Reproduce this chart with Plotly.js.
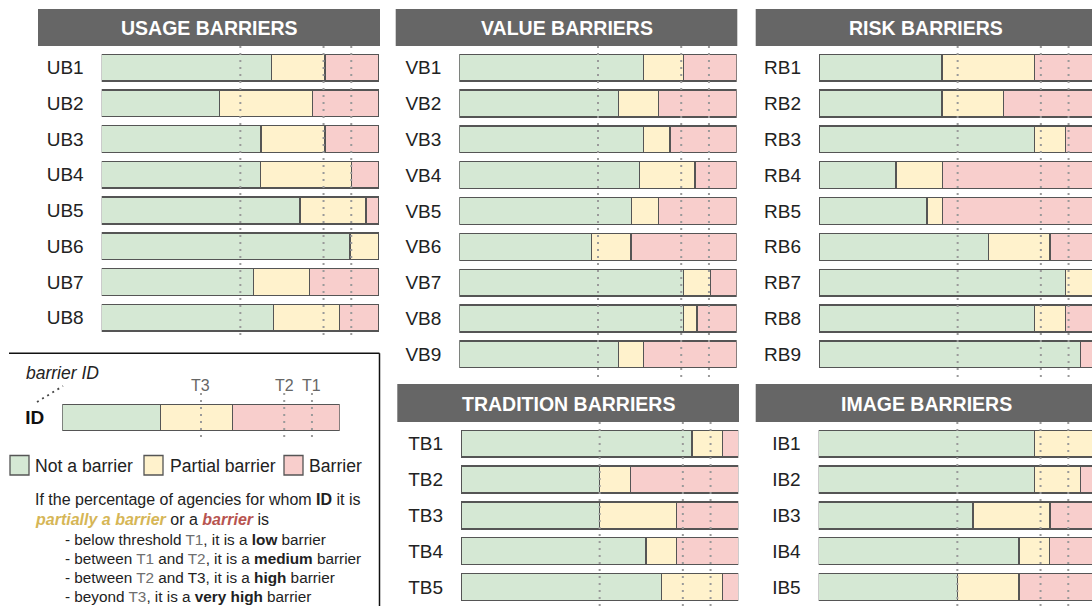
<!DOCTYPE html>
<html><head><meta charset="utf-8">
<script src="https://cdn.plot.ly/plotly-3.0.1.min.js"></script>
<style>html,body{margin:0;padding:0;overflow:hidden;background:#fff;width:1092px;height:606px}</style>
</head><body><div id="chart"></div>
<script>
// ---------- DATA (percent of agencies) ----------
const usageIds      = ['UB1','UB2','UB3','UB4','UB5','UB6','UB7','UB8'];
const usageNot      = [61.3, 42.4, 57.4, 57.2, 71.5, 89.5, 54.7, 61.9];
const usagePartial  = [19.2, 33.7, 23.1, 32.9, 23.8, 10.5, 20.2, 23.8];
const usageBarrier  = [19.5, 23.9, 19.5,  9.9,  4.7,  0.0, 25.1, 14.3];

const valueIds      = ['VB1','VB2','VB3','VB4','VB5','VB6','VB7','VB8','VB9'];
const valueNot      = [66.5, 57.5, 66.5, 65.0, 62.0, 47.7, 80.8, 80.8, 57.5];
const valuePartial  = [14.3, 14.3,  9.5, 20.0,  9.8, 14.2,  9.7,  4.9,  8.9];
const valueBarrier  = [19.2, 28.2, 24.0, 15.0, 28.2, 38.1,  9.5, 14.3, 33.6];

const riskIds       = ['RB1','RB2','RB3','RB4','RB5','RB6','RB7','RB8','RB9'];
const riskNot       = [44.4, 44.4, 77.8, 27.8, 38.9, 61.1, 88.9, 77.8, 94.4];
const riskPartial   = [33.3, 22.2, 11.1, 16.7,  5.6, 22.2, 11.1, 11.1,  0.0];
const riskBarrier   = [22.2, 33.3, 11.1, 55.6, 55.6, 16.7,  0.0, 11.1,  5.6];

const traditionIds     = ['TB1','TB2','TB3','TB4','TB5'];
const traditionNot     = [83.3, 50.0, 50.0, 66.7, 72.2];
const traditionPartial = [11.1, 11.1, 27.8, 11.1, 22.2];
const traditionBarrier = [ 5.6, 38.9, 22.2, 22.2,  5.6];

const imageIds      = ['IB1','IB2','IB3','IB4','IB5'];
const imageNot      = [77.8, 77.8, 55.6, 72.2, 50.0];
const imagePartial  = [22.2, 16.7, 27.8, 11.1, 22.2];
const imageBarrier  = [ 0.0,  5.6, 16.7, 16.7, 27.8];

const exampleIds     = ['ID'];
const exampleNot     = [35.5];
const examplePartial = [25.8];
const exampleBarrier = [38.7];

// thresholds on the cumulative "not a barrier" scale
const thresholdNames  = ['T3','T2','T1'];
const thresholdValues = [50, 80, 90];

const categoryNames = ['Not a barrier','Partial barrier','Barrier'];

// ---------- LAYOUT ----------
const W = 1100, H = 606;
const fx = p => p / W, fy = p => 1 - p / H;
const FONT = 'Liberation Sans, Arial, sans-serif';
const fills = ['#d5e8d4','#fff2cc','#f8cecc'];
const TXT = '#222';

const panels = [
  {ids:usageIds, vals:[usageNot,usagePartial,usageBarrier], title:'USAGE BARRIERS',
   bx:[101.7,379], by:[49.8,335.5], hx:[38,380], hy:[9,46], dy:[46,340]},
  {ids:valueIds, vals:[valueNot,valuePartial,valueBarrier], title:'VALUE BARRIERS',
   bx:[459.3,736.7], by:[49.8,372.2], hx:[395.7,737.3], hy:[9,46], dy:[46,377]},
  {ids:riskIds, vals:[riskNot,riskPartial,riskBarrier], title:'RISK BARRIERS',
   bx:[819,1096.3], by:[49.8,372.2], hx:[755.7,1097], hy:[9,46], dy:[46,377]},
  {ids:traditionIds, vals:[traditionNot,traditionPartial,traditionBarrier], title:'TRADITION BARRIERS',
   bx:[461,738.3], by:[425.75,605], hx:[397.3,739], hy:[384,422], dy:[422,612]},
  {ids:imageIds, vals:[imageNot,imagePartial,imageBarrier], title:'IMAGE BARRIERS',
   bx:[818.7,1096], by:[425.75,605], hx:[755.7,1097], hy:[384,422], dy:[422,612]},
  {ids:exampleIds, vals:[exampleNot,examplePartial,exampleBarrier], title:null,
   bx:[62.3,339.7], by:[399.8,435.2], dy:[393,441], example:true}
];

const data = [];
const layout = {
  width: W, height: H, margin:{l:0,r:0,t:0,b:0},
  paper_bgcolor:'#fff', plot_bgcolor:'rgba(0,0,0,0)',
  barmode:'stack', bargap:0.25, showlegend:false,
  font:{family:FONT, color:TXT},
  shapes:[], annotations:[]
};

panels.forEach((p, i) => {
  const s = i === 0 ? '' : String(i + 1);
  const xa = 'x' + s, ya = 'y' + s;
  layout['xaxis' + s] = {domain:[fx(p.bx[0]), fx(p.bx[1])], range:[0,100], anchor:ya,
    visible:false, fixedrange:true};
  layout['yaxis' + s] = {domain:[fy(p.by[1]), fy(p.by[0])], anchor:xa, type:'category',
    categoryorder:'array', categoryarray:p.ids, autorange:'reversed',
    showgrid:false, zeroline:false, showline:false, ticks:'', fixedrange:true,
    ticklabelstandoff:17,
    tickfont: p.example ? {size:19, color:'#111', family:FONT, weight:'bold'} : {size:19, color:TXT, family:FONT}};
  p.vals.forEach((v, j) => {
    data.push({type:'bar', orientation:'h', x:v, y:p.ids, xaxis:xa, yaxis:ya,
      name:categoryNames[j], marker:{color:fills[j], line:{color:'#555', width:1.4}},
      hoverinfo:'skip', showlegend:false});
  });
  thresholdValues.forEach((t, k) => {
    layout.shapes.push({type:'line', xref:xa, yref:'paper', x0:t, x1:t,
      y0:fy(p.dy[0]), y1:fy(p.dy[1]), layer:'above',
      line:{color:'#9a9a9a', width:2, dash:'2px,5px'}});
    if (p.example) {
      layout.annotations.push({xref:xa, yref:'paper', x:t, y:fy(385), text:thresholdNames[k],
        showarrow:false, xanchor:'center', yanchor:'middle', font:{size:16, color:'#666'}});
    }
  });
  if (p.title) {
    layout.shapes.push({type:'rect', xref:'paper', yref:'paper', layer:'below',
      x0:fx(p.hx[0]), x1:fx(p.hx[1]), y0:fy(p.hy[1]), y1:fy(p.hy[0]),
      fillcolor:'#666666', line:{width:0}});
    layout.annotations.push({xref:'paper', yref:'paper', x:fx((p.hx[0]+p.hx[1])/2),
      y:fy((p.hy[0]+p.hy[1])/2 + 0.5), text:'<b>' + p.title + '</b>', showarrow:false,
      xanchor:'center', yanchor:'middle', font:{size:19.5, color:'#ffffff'}});
  }
});

// legend box (top and right edges)
layout.shapes.push({type:'line', xref:'paper', yref:'paper', x0:fx(9), x1:fx(379.5), y0:fy(353.3), y1:fy(353.3),
  line:{color:'#111', width:1.5}});
layout.shapes.push({type:'line', xref:'paper', yref:'paper', x0:fx(379.5), x1:fx(379.5), y0:fy(353.3), y1:fy(610),
  line:{color:'#111', width:1.5}});
// "barrier ID" pointer
layout.shapes.push({type:'line', xref:'paper', yref:'paper', x0:fx(37), x1:fx(63), y0:fy(402), y1:fy(386),
  line:{color:'#444', width:1.8, dash:'2px,4px'}});
layout.annotations.push({xref:'paper', yref:'paper', x:fx(24), y:fy(373), text:'<i>barrier ID</i>',
  showarrow:false, xanchor:'left', yanchor:'middle', font:{size:17.5, color:TXT}});

// category key
const keyX = [[10,33],[144,167.5],[284,306.5]];
categoryNames.forEach((n, j) => {
  layout.shapes.push({type:'rect', xref:'paper', yref:'paper', x0:fx(keyX[j][0]), x1:fx(keyX[j][0]+19),
    y0:fy(475), y1:fy(455.5), fillcolor:fills[j], line:{color:'#555', width:1.3}});
  layout.annotations.push({xref:'paper', yref:'paper', x:fx(keyX[j][1]), y:fy(466), text:n,
    showarrow:false, xanchor:'left', yanchor:'middle', font:{size:17.6, color:TXT}});
});

const G = s => '<span style="color:#6e6e6e">' + s + '</span>';
const lines = [
  [33, 499.5, 16, 'If the percentage of agencies for whom <b>ID</b> it is'],
  [33, 519.5, 16, '<b><i><span style="color:#d6b656">partially a barrier</span></i></b> or a <b><i><span style="color:#b85450">barrier</span></i></b> is'],
  [62.5, 539.5, 15.3, '- below threshold ' + G('T1') + ', it is a <b>low</b> barrier'],
  [62.5, 558.5, 15.3, '- between ' + G('T1') + ' and ' + G('T2') + ', it is a <b>medium</b> barrier'],
  [62.5, 577.5, 15.3, '- between ' + G('T2') + ' and T3, it is a <b>high</b> barrier'],
  [62.5, 596.5, 15.3, '- beyond ' + G('T3') + ', it is a <b>very high</b> barrier']
];
lines.forEach(l => layout.annotations.push({xref:'paper', yref:'paper', x:fx(l[0]), y:fy(l[1]),
  text:l[3], showarrow:false, xanchor:'left', yanchor:'middle', font:{size:l[2], color:TXT}}));

Plotly.newPlot('chart', data, layout, {staticPlot:true, displayModeBar:false});
</script></body></html>
